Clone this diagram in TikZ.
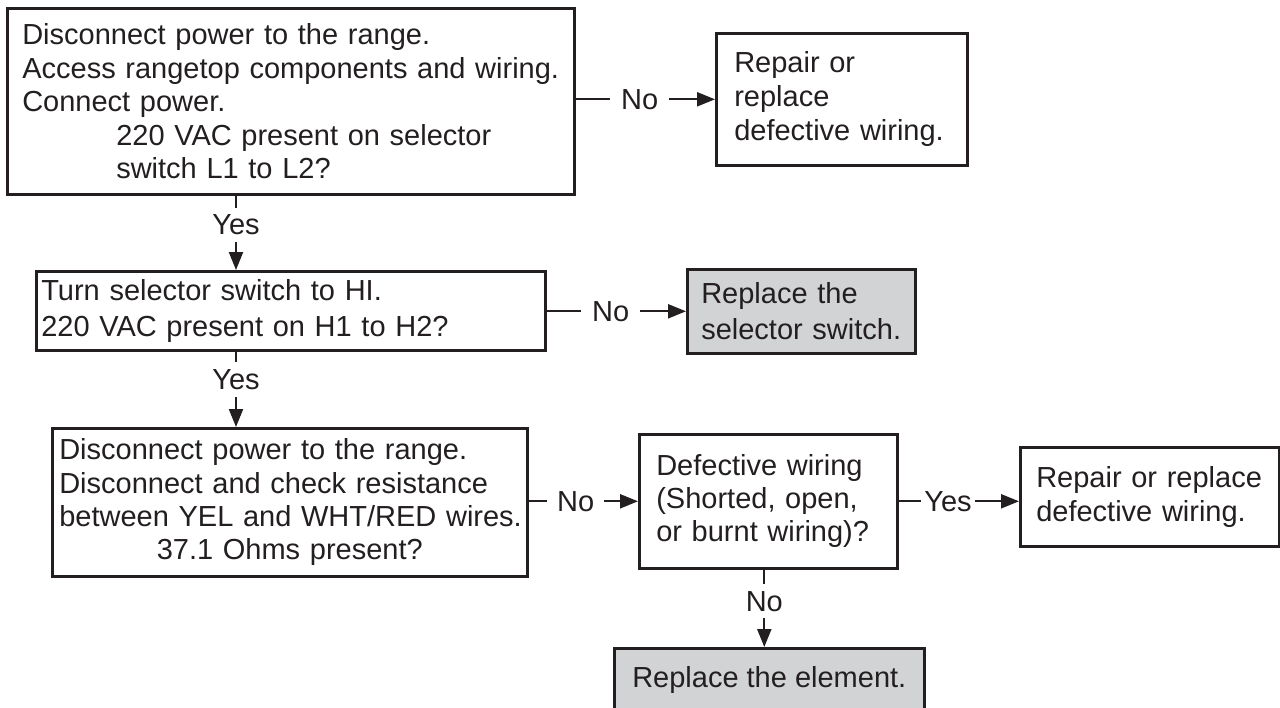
\documentclass[tikz,border=0pt]{standalone}
\usepackage{fontspec}
\setmainfont{Liberation Sans}
\usetikzlibrary{arrows.meta}
\definecolor{ink}{HTML}{231F20}
\definecolor{shade}{HTML}{D1D3D4}
\begin{document}
\begin{tikzpicture}[x=1pt,y=-1pt,
  box/.style={draw=ink, line width=2.6pt, anchor=north west, align=left,
    inner ysep=0pt, text=ink, font=\fontsize{29}{33.5}\selectfont},
  greybox/.style={box, fill=shade},
  conn/.style={draw=ink, line width=2.2pt, -{Triangle[length=18pt,width=14pt]}},
  lab/.style={fill=white, text=ink, font=\fontsize{29}{33}\selectfont, inner ysep=2pt},
  vlab/.style={lab, inner ysep=7pt, inner xsep=2pt},
]
\useasboundingbox (0,0) rectangle (1280,707);
\clip (0,0) rectangle (1280,707);
\fill[white] (0,0) rectangle (1280,707);

\node[box, text width=537pt, inner xsep=15pt, minimum height=186pt] (b1) at (6,7)
  {\mbox{Disconnect power to the range.}\\\mbox{Access rangetop components and wiring.}\\Connect power.\\
   \hspace*{94pt}\mbox{220 VAC present on selector}\\\hspace*{94pt}\mbox{switch L1 to L2?}};
\node[box, text width=215pt, inner xsep=18pt, minimum height=132pt,
  font=\fontsize{29}{34}\selectfont] (b2) at (715,32)
  {Repair or\\replace\\\mbox{defective wiring.}};
\node[box, text width=499pt, inner xsep=5pt, minimum height=79pt,
  font=\fontsize{29}{36}\selectfont] (b3) at (35,270)
  {\mbox{Turn selector switch to HI.}\\\mbox{220 VAC present on H1 to H2?}};
\node[greybox, text width=200pt, inner xsep=14pt, minimum height=84pt,
  font=\fontsize{29}{36}\selectfont] (g1) at (686,268)
  {Replace the\\\mbox{selector switch.}};
\node[box, text width=461pt, inner xsep=7pt, minimum height=148pt,
  font=\fontsize{29}{33.3}\selectfont] (b4) at (51,427)
  {\mbox{Disconnect power to the range.}\\\mbox{Disconnect and check resistance}\\\mbox{between YEL and WHT/RED wires.}\\
   \makebox[461pt][c]{37.1 Ohms present?}};
\node[box, text width=224pt, inner xsep=17pt, minimum height=134pt,
  font=\fontsize{29}{33}\selectfont] (b5) at (638,433)
  {\mbox{Defective wiring}\\\mbox{(Shorted, open,}\\\mbox{or burnt wiring)?}};
\node[box, text width=227pt, inner xsep=16pt, minimum height=99pt,
  font=\fontsize{29}{34}\selectfont] (b6) at (1019,446)
  {\mbox{Repair or replace}\\\mbox{defective wiring.}};
\node[greybox, align=center, minimum width=310pt, minimum height=64pt] (g2) at (613,647)
  {Replace the element.};

\draw[conn] (b1.east |- b2.west) -- node[lab, pos=0.46, inner xsep=11pt] {No} (b2.west);
\draw[conn] (b3.east |- g1.west) -- node[lab, pos=0.46, inner xsep=11pt] {No} (g1.west);
\draw[conn] (b4.east |- b5.west) -- node[lab, pos=0.43, inner xsep=10pt] {No} (b5.west);
\draw[conn] (b5.east) -- node[lab, pos=0.41, inner xsep=3pt] {Yes} (b5.east -| b6.west);

\draw[conn] ([xshift=230pt]b1.south west) -- node[vlab, pos=0.39] {Yes}
  ([xshift=230pt]b1.south west |- b3.north);
\draw[conn] ([xshift=201pt]b3.south west) -- node[vlab, pos=0.37] {Yes}
  ([xshift=201pt]b3.south west |- b4.north);
\draw[conn] ([xshift=-4pt]b5.south) -- node[vlab, pos=0.41] {No}
  ([xshift=-4pt]b5.south |- g2.north);
\end{tikzpicture}
\end{document}
